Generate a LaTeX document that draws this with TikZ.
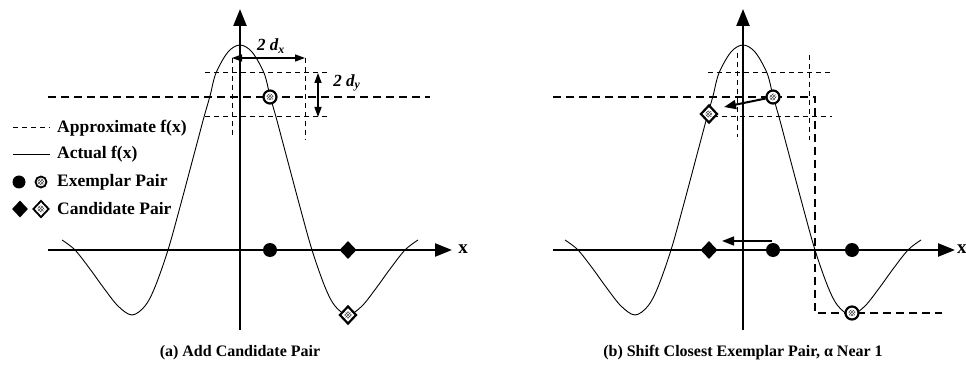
\documentclass[tikz,border=0pt]{standalone}
\usepackage{fontspec}
\setmainfont{Liberation Serif}
\usetikzlibrary{arrows.meta,shapes.geometric,patterns}
\tikzset{
  axisline/.style={line width=2.4pt,-{Triangle[length=17pt,width=13pt]}},
  curveline/.style={line width=0.9pt},
  approxthick/.style={line width=2.2pt,dash pattern=on 8pt off 5pt},
  approxthin/.style={line width=1pt,dash pattern=on 5pt off 4pt},
  dimarrow/.style={line width=1.4pt,{Triangle[length=10pt,width=7pt]}-{Triangle[length=10pt,width=7pt]}},
  movearrow/.style={line width=2pt,-{Triangle[length=12pt,width=9pt]}},
  hatchpic/.style={path picture={\fill[pattern=crosshatch,pattern color=black!70] (path picture bounding box.center) circle (3.5pt);}},
  exfull/.style={circle,fill=black,inner sep=0pt,minimum size=14pt},
  exhatch/.style={circle,draw=black,line width=2.2pt,fill=white,inner sep=0pt,minimum size=13pt,hatchpic},
  cafull/.style={diamond,fill=black,inner sep=0pt,minimum width=17pt,minimum height=18pt},
  cahatch/.style={diamond,draw=black,line width=2.2pt,fill=white,inner sep=0pt,minimum width=17pt,minimum height=18pt,hatchpic},
  lbl/.style={font=\fontsize{17.5}{20}\selectfont\bfseries,inner sep=0pt},
}
\newcommand{\actualcurve}{%
  plot[smooth,tension=0.55] coordinates {(-178,-10) (-165,0) (-150,19) (-137,37) (-122,56) (-108,65) (-95,56) (-85,37) (-72,0) (-60,-43) (-44,-103) (-36,-133) (-30,-154) (-24,-177) (-12,-198) (0,-205) (12,-198) (24,-177) (30,-154) (36,-133) (44,-103) (60,-43) (72,0) (85,37) (95,56) (108,65) (122,56) (137,37) (150,19) (165,0) (178,-10)}}
\begin{document}
\begin{tikzpicture}[x=1pt,y=-1pt]
\useasboundingbox[fill=white] (0,0) rectangle (966,366);

% ================= Panel (a) =================
\begin{scope}
  \draw[curveline] [shift={(240,250)}] \actualcurve;
  \coordinate (ax0) at (48,250);
  \coordinate (ax1) at (452,250);
  \coordinate (ay0) at (240,330);
  \coordinate (ay1) at (240,9);
  \draw[axisline] (ax0) -- (ax1);
  \draw[axisline] (ay0) -- (ay1);
  \node[lbl,font=\fontsize{19}{20}\selectfont\bfseries] (xa) at (463,249) {x};
  \coordinate (ha0) at (48,97);
  \coordinate (ha1) at (430,97);
  \draw[approxthick] (ha0) -- (ha1);
  \coordinate (ta0) at (205,73);  \coordinate (ta1) at (330,73);
  \coordinate (tb0) at (205,117); \coordinate (tb1) at (330,117);
  \coordinate (va0) at (232,58);  \coordinate (va1) at (232,137);
  \coordinate (vb0) at (305,58);  \coordinate (vb1) at (305,140);
  \draw[approxthin] (ta0) -- (ta1);
  \draw[approxthin] (tb0) -- (tb1);
  \draw[approxthin] (va0) -- (va1);
  \draw[approxthin] (vb0) -- (vb1);
  \coordinate (dx0) at (232,58); \coordinate (dx1) at (305,58);
  \draw[dimarrow] (dx0) -- (dx1);
  \node[lbl,font=\fontsize{17}{20}\selectfont\bfseries\itshape] (dxl) at (271,46) {2 d\textsubscript{x}};
  \coordinate (dy0) at (318,73); \coordinate (dy1) at (318,117);
  \draw[dimarrow] (dy0) -- (dy1);
  \node[lbl,font=\fontsize{17}{20}\selectfont\bfseries\itshape] (dyl) at (347,83) {2 d\textsubscript{y}};
  \node[exfull] (ea) at (270,250) {};
  \node[cafull] (ca) at (348,250) {};
  \node[exhatch] (eha) at (270,97) {};
  \node[cahatch] (cha) at (348,315) {};
  \coordinate (l1a) at (13,128); \coordinate (l1b) at (50,128);
  \draw[approxthin] (l1a) -- (l1b);
  \node[lbl,anchor=west] (lt1) at (57,128) {Approximate f(x)};
  \coordinate (l2a) at (13,154); \coordinate (l2b) at (50,154);
  \draw[curveline] (l2a) -- (l2b);
  \node[lbl,anchor=west] (lt2) at (57,154) {Actual f(x)};
  \node[exfull,minimum size=13pt] (le1) at (19,182) {};
  \node[exhatch,minimum size=11pt,line width=1.8pt] (le2) at (41,182) {};
  \node[lbl,anchor=west] (lt3) at (57,182) {Exemplar Pair};
  \node[cafull,minimum width=16pt,minimum height=17pt] (lc1) at (20,209) {};
  \node[cahatch,minimum width=16pt,minimum height=17pt,line width=1.8pt] (lc2) at (41,209) {};
  \node[lbl,anchor=west] (lt4) at (57,209) {Candidate Pair};
  \node[lbl,font=\fontsize{16}{20}\selectfont\bfseries] (capa) at (240,353) {(a) Add Candidate Pair};
\end{scope}

% ================= Panel (b) =================
\begin{scope}
  \draw[curveline] [shift={(743,250)}] \actualcurve;
  \coordinate (bx0) at (553,250);
  \coordinate (bx1) at (955,250);
  \coordinate (by0) at (743,330);
  \coordinate (by1) at (743,9);
  \draw[axisline] (bx0) -- (bx1);
  \draw[axisline] (by0) -- (by1);
  \node[lbl,font=\fontsize{19}{20}\selectfont\bfseries,anchor=west] (xb) at (957,249) {x};
  \coordinate (s0) at (553,97);
  \coordinate (s1) at (815,97);
  \coordinate (s2) at (815,313);
  \coordinate (s3) at (942,313);
  \draw[approxthick] (s0) -- (s1) -- (s2) -- (s3);
  \coordinate (tc0) at (708,73);  \coordinate (tc1) at (832,73);
  \coordinate (td0) at (713,117); \coordinate (td1) at (832,117);
  \coordinate (vc0) at (737,53);  \coordinate (vc1) at (737,137);
  \coordinate (vd0) at (809,55);  \coordinate (vd1) at (809,140);
  \draw[approxthin] (tc0) -- (tc1);
  \draw[approxthin] (td0) -- (td1);
  \draw[approxthin] (vc0) -- (vc1);
  \draw[approxthin] (vd0) -- (vd1);
  \node[cafull] (cb) at (709,250) {};
  \node[exfull] (eb1) at (773,250) {};
  \node[exfull] (eb2) at (852,250) {};
  \node[cahatch] (chb) at (709,114) {};
  \node[exhatch] (ehb1) at (773,97) {};
  \node[exhatch] (ehb2) at (852,313) {};
  \coordinate (m1) at (724,107);
  \draw[movearrow] (ehb1) -- (m1);
  \coordinate (m2a) at (772,241);
  \coordinate (m2b) at (722,241);
  \draw[movearrow,line width=1.6pt] (m2a) -- (m2b);
  \node[lbl,font=\fontsize{16}{20}\selectfont\bfseries] (capb) at (743,353) {(b) Shift Closest Exemplar Pair, α Near 1};
\end{scope}
\end{tikzpicture}
\end{document}
